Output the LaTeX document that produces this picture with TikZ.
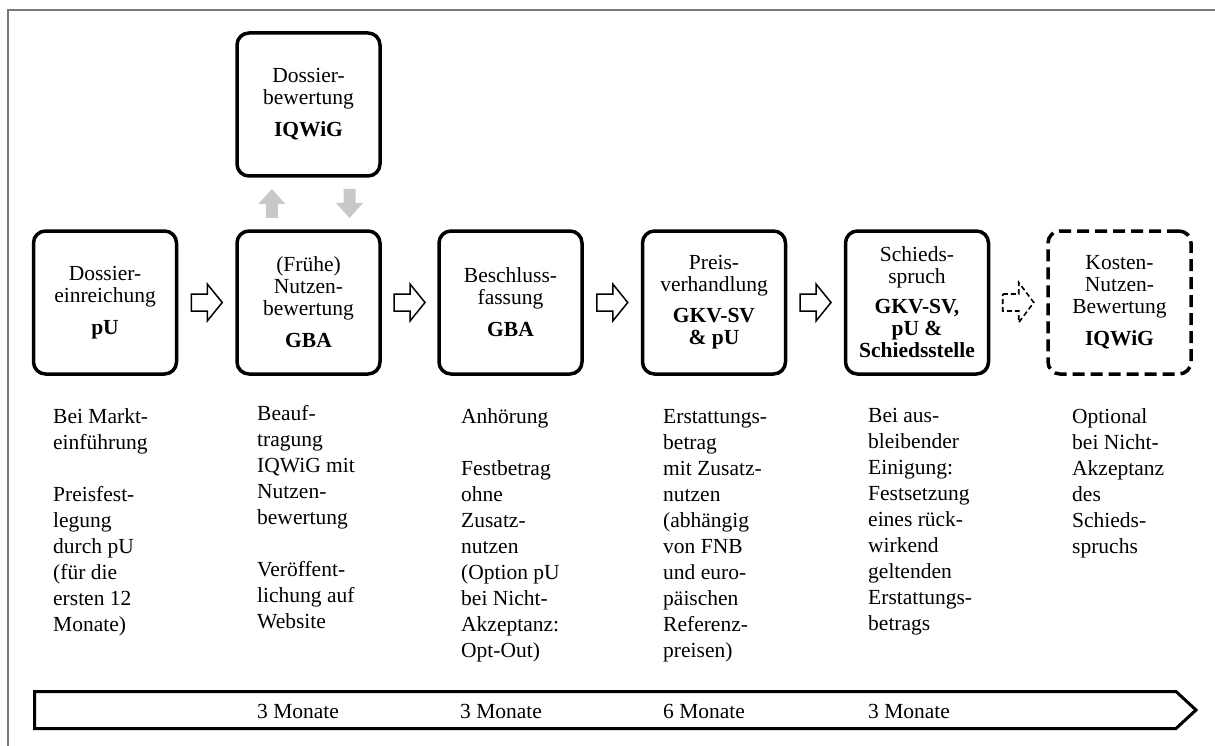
\documentclass[tikz,border=0pt]{standalone}
\usepackage{fontspec}
\setmainfont{Liberation Serif}
\usetikzlibrary{calc}
\definecolor{framegray}{RGB}{120,120,120}
\definecolor{arrowgray}{RGB}{200,200,200}
\begin{document}
\begin{tikzpicture}[x=1pt,y=-1pt,
  stage/.style={draw, line width=3.5pt, rounded corners=12pt, minimum width=143pt, minimum height=143pt,
    inner sep=0pt, align=center, font=\fontsize{21.5}{22}\selectfont},
  optstage/.style={stage, dash pattern=on 12pt off 6pt},
  note/.style={anchor=north west, inner sep=0pt, align=left, font=\fontsize{21.5}{26}\selectfont},
  dur/.style={anchor=base west, inner sep=0pt, font=\fontsize{21.5}{26}\selectfont},
  harrow/.pic={\draw[line width=1.5pt, fill=white] (-15.5,-8.5) -- (0.5,-8.5) -- (0.5,-18.5) -- (15.5,0)
      -- (0.5,18.5) -- (0.5,8.5) -- (-15.5,8.5) -- cycle;},
  dharrow/.pic={\draw[line width=1.6pt, dash pattern=on 5pt off 3pt, fill=white] (-15.5,-8.5) -- (0.5,-8.5) -- (0.5,-20) -- (15.5,0)
      -- (0.5,20) -- (0.5,8.5) -- (-15.5,8.5) -- cycle;},
  garrow/.pic={\fill[arrowgray] (-6,14.5) -- (-6,0.5) -- (-13.5,0.5) -- (0,-14.5) -- (13.5,0.5)
      -- (6,0.5) -- (6,14.5) -- cycle;}
]
\useasboundingbox (0,0) rectangle (1215,746);
% outer frame (cropped)
\draw[framegray, line width=2pt] (8,746) -- (8,10) -- (1215,10);

% stages
\node[stage] (top) at (308.5,104.5) {Dossier-\\bewertung\\[10pt]\textbf{IQWiG}};
\node[stage] (b1) at (105,302.5) {Dossier-\\einreichung\\[10pt]\textbf{pU}};
\node[stage] (b2) at (308.5,302.5) {(Frühe)\\Nutzen-\\bewertung\\[10pt]\textbf{GBA}};
\node[stage] (b3) at (510.5,302.5) {Beschluss-\\fassung\\[10pt]\textbf{GBA}};
\node[stage] (b4) at (714,302.5) {Preis-\\verhandlung\\[9pt]\textbf{GKV-SV}\\\textbf{\& pU}};
\node[stage] (b5) at (917,302.5) {Schieds-\\spruch\\[8pt]\textbf{GKV-SV,}\\\textbf{pU \&}\\\textbf{Schiedsstelle}};
\node[optstage] (b6) at (1119.5,302.5) {Kosten-\\Nutzen-\\Bewertung\\[10pt]\textbf{IQWiG}};

% hollow connectors
\coordinate (m12) at ($(b1.east)!0.5!(b2.west)$);
\coordinate (m23) at ($(b2.east)!0.5!(b3.west)$);
\coordinate (m34) at ($(b3.east)!0.5!(b4.west)$);
\coordinate (m45) at ($(b4.east)!0.5!(b5.west)$);
\coordinate (m56) at ($(b5.east)!0.5!(b6.west)$);
\pic at (m12) {harrow};
\pic at (m23) {harrow};
\pic at (m34) {harrow};
\pic at (m45) {harrow};
\pic at (m56) {dharrow};

% gray connectors between b2 and top
\coordinate (gm) at ($(b2.north)!0.5!(top.south)$);
\coordinate (gu) at ($(b2.north west)!0.25!(b2.north east)$);
\coordinate (gd) at ($(b2.north west)!0.78!(b2.north east)$);
\pic at (gu |- gm) {garrow};
\pic[rotate=180] at (gd |- gm) {garrow};

% notes
\node[note] (n1) at (53,405) {\strut Bei Markt-\\einführung\\[26pt]Preisfest-\\legung\\durch pU\\(für die\\ersten 12\\Monate)};
\node[note] (n2) at (257,402) {\strut Beauf-\\tragung\\IQWiG mit\\Nutzen-\\bewertung\\[26pt]Veröffent-\\lichung auf\\Website};
\node[note] (n3) at (461,405) {\strut Anhörung\\[26pt]Festbetrag\\ohne\\Zusatz-\\nutzen\\(Option pU\\bei Nicht-\\Akzeptanz:\\Opt-Out)};
\node[note] (n4) at (663,405) {\strut Erstattungs-\\betrag\\mit Zusatz-\\nutzen\\(abhängig\\von FNB\\und euro-\\päischen\\Referenz-\\preisen)};
\node[note] (n5) at (868,404) {\strut Bei aus-\\bleibender\\Einigung:\\Festsetzung\\eines rück-\\wirkend\\geltenden\\Erstattungs-\\betrags};
\node[note] (n6) at (1072,405) {\strut Optional\\bei Nicht-\\Akzeptanz\\des\\Schieds-\\spruchs};

% timeline
\draw[line width=3pt, line join=miter] (34.5,691.5) -- (1176,691.5) -- (1196,710) -- (1176,728.5) -- (34.5,728.5) -- cycle;
\node[dur] (d1) at (257,718) {3 Monate};
\node[dur] (d2) at (460,718) {3 Monate};
\node[dur] (d3) at (663,718) {6 Monate};
\node[dur] (d4) at (868,718) {3 Monate};
\end{tikzpicture}
\end{document}
